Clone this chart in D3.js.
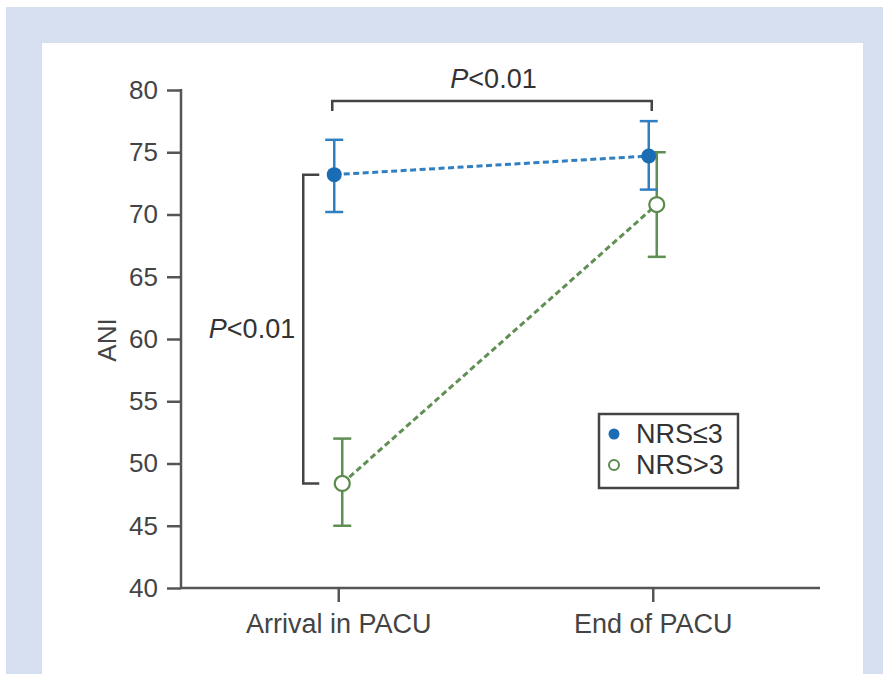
<!DOCTYPE html>
<html><head><meta charset="utf-8">
<script src="https://cdn.jsdelivr.net/npm/d3@7"></script>
<style>body{margin:0;background:#fff}svg{display:block}text{font-family:"Liberation Sans",Arial,sans-serif}</style>
</head><body>
<svg id="c" width="883" height="674"></svg>
<script>
const categories = ["Arrival in PACU", "End of PACU"];
const seriesNames = ["NRS≤3", "NRS>3"];
const meanLow = [73.2, 74.7];     // NRS≤3
const errLowMin = [70.2, 72.0];
const errLowMax = [76.0, 77.5];
const meanHigh = [48.4, 70.8];    // NRS>3
const errHighMin = [45.0, 66.6];
const errHighMax = [52.0, 75.0];
const yTicks = [40, 45, 50, 55, 60, 65, 70, 75, 80];

const svg = d3.select("#c");
svg.append("rect").attr("x",6).attr("y",7).attr("width",877).attr("height",667).attr("fill","#d5dff0");
svg.append("rect").attr("x",42).attr("y",43).attr("width",821).attr("height",631).attr("fill","#fff");

const y = d3.scaleLinear().domain([40,80]).range([588,90]);
const x = d3.scalePoint().domain(categories).range([181,810]).padding(0.5);
const axisColor = "#555";
const fs = 26;

const gy = svg.append("g").attr("transform","translate(181,0)")
  .call(d3.axisLeft(y).tickValues(yTicks).tickSize(14).tickPadding(9).tickSizeOuter(0));
gy.select(".domain").attr("stroke",axisColor).attr("stroke-width",2.5).attr("d","M0,89V589");
gy.selectAll(".tick line").attr("stroke",axisColor).attr("stroke-width",2.5);
gy.selectAll(".tick text").attr("fill","#444").style("font-size",fs+"px");

const gx = svg.append("g").attr("transform","translate(0,588)")
  .call(d3.axisBottom(x).tickSize(14).tickPadding(12).tickSizeOuter(0));
gx.select(".domain").attr("stroke",axisColor).attr("stroke-width",2.5).attr("d","M180,0H820");
gx.selectAll(".tick line").attr("stroke",axisColor).attr("stroke-width",2.5);
gx.selectAll(".tick text").attr("fill","#444").style("font-size","27px").attr("dy","0.72em");

svg.append("text").attr("transform","translate(116,340) rotate(-90)").attr("text-anchor","middle")
  .attr("fill","#444").style("font-size",fs+"px").text("ANI");

const series = [
  {name:seriesNames[0], mean:meanLow, lo:errLowMin, hi:errLowMax, dx:-4, color:"#1a6db4", bar:"#2f7fc1", filled:true},
  {name:seriesNames[1], mean:meanHigh, lo:errHighMin, hi:errHighMax, dx:4, color:"#5a8a4c", bar:"#5f8f52", filled:false}
];
[series[1], series[0]].forEach(s=>{
  const g = svg.append("g");
  const pts = categories.map((c,i)=>({x:x(c)+s.dx, m:s.mean[i], lo:s.lo[i], hi:s.hi[i]}));
  g.append("path").attr("d", d3.line().x(d=>d.x).y(d=>y(d.m))(pts))
    .attr("fill","none").attr("stroke",s.bar).attr("stroke-width",3).attr("stroke-dasharray","6,3.5");
  pts.forEach(d=>{
    g.append("line").attr("x1",d.x).attr("x2",d.x).attr("y1",y(d.lo)).attr("y2",y(d.hi)).attr("stroke",s.bar).attr("stroke-width",2.5);
    [d.lo,d.hi].forEach(v=>g.append("line").attr("x1",d.x-9).attr("x2",d.x+9).attr("y1",y(v)).attr("y2",y(v)).attr("stroke",s.bar).attr("stroke-width",2.5));
    g.append("circle").attr("cx",d.x).attr("cy",y(d.m)).attr("r",7.5)
      .attr("fill",s.filled?s.color:"#fff").attr("stroke",s.color).attr("stroke-width",s.filled?0:2.2);
  });
});

const br = svg.append("g").attr("fill","none").attr("stroke","#444").attr("stroke-width",2.5);
const x0 = x(categories[0]), x1 = x(categories[1]);
br.append("path").attr("d",`M${x0-6},111V101H${x1-1}V111`);
br.append("path").attr("d",`M${x0-19},${y(meanLow[0])}H${x0-35}V${y(meanHigh[0])}H${x0-19}`);
const pLabel = (tx,ty)=>{
  const t = svg.append("text").attr("x",tx).attr("y",ty).attr("text-anchor","middle").attr("fill","#333").style("font-size","27px");
  t.append("tspan").attr("font-style","italic").text("P");
  t.append("tspan").text("<0.01");
};
pLabel((x0+x1)/2-2, 88);
pLabel(252, 338);

const lg = svg.append("g");
lg.append("rect").attr("x",599).attr("y",414).attr("width",139).attr("height",74).attr("fill","#fff").attr("stroke","#444").attr("stroke-width",2.5);
series.forEach((s,i)=>{
  const cy = 434 + i*31;
  lg.append("circle").attr("cx",614).attr("cy",cy).attr("r",s.filled?5.5:5).attr("fill",s.filled?s.color:"#fff").attr("stroke",s.color).attr("stroke-width",s.filled?0:2);
  lg.append("text").attr("x",636).attr("y",cy+9).attr("fill","#333").style("font-size","27px").text(s.name);
});
</script>
</body></html>
